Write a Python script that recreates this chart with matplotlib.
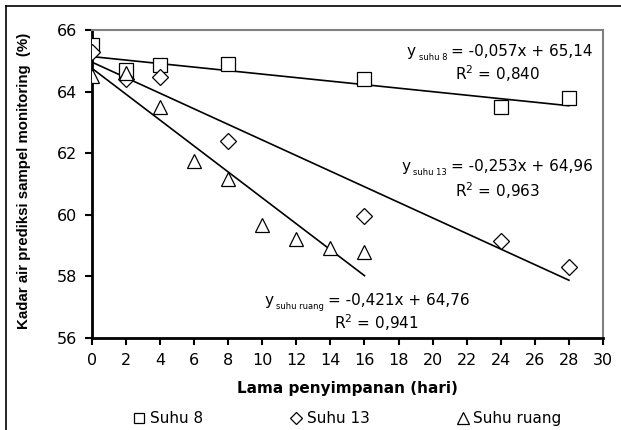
import matplotlib
matplotlib.use('Agg')
import matplotlib.pyplot as plt
from matplotlib.lines import Line2D
from matplotlib.transforms import offset_copy
import numpy as np

plt.rcParams['font.family'] = ['DejaVu Sans']
plt.rcParams['mathtext.default'] = 'regular'

# Data
days_8 = [0, 2, 4, 8, 16, 24, 28]
suhu_8 = [65.51, 64.70, 64.86, 64.90, 64.41, 63.50, 63.79]
days_13 = [0, 2, 4, 8, 16, 24, 28]
suhu_13 = [65.29, 64.41, 64.47, 62.40, 59.96, 59.15, 58.31]
days_ruang = [0, 2, 4, 6, 8, 10, 12, 14, 16]
suhu_ruang = [64.50, 64.62, 63.50, 61.75, 61.16, 59.67, 59.22, 58.92, 58.79]

# Trendline coefficients (slope, intercept) as printed
coef_8 = (-0.057, 65.14)
coef_13 = (-0.253, 64.96)
coef_ruang = (-0.421, 64.76)

fig = plt.figure(figsize=(6.21, 4.30), dpi=100)
ax = fig.add_axes([0.148, 0.214, 0.823, 0.716])

mk = dict(linestyle='none', markerfacecolor='white', markeredgecolor='black',
          markeredgewidth=0.9, zorder=3)
ax.plot(days_8, suhu_8, marker='s', markersize=9.5, label='Suhu 8', **mk)
ax.plot(days_13, suhu_13, marker='D', markersize=8, label='Suhu 13', **mk)
ax.plot(days_ruang, suhu_ruang, marker='^', markersize=10.5, label='Suhu ruang', **mk)

for days, coef in [(days_8, coef_8), (days_13, coef_13), (days_ruang, coef_ruang)]:
    xs = np.array([min(days), max(days)])
    ax.plot(xs, coef[0] * xs + coef[1], color='black', linewidth=1.2, zorder=2)

ax.set_xlim(0, 30)
ax.set_ylim(56, 66)
ax.set_xticks(np.arange(0, 31, 2))
ax.set_yticks(np.arange(56, 67, 2))
ax.tick_params(direction='out', length=5, width=1.5, labelsize=11.5, pad=6)
for s in ['left', 'bottom']:
    ax.spines[s].set_linewidth(2)
for s in ['top', 'right']:
    ax.spines[s].set_color('#808080')
    ax.spines[s].set_linewidth(1.5)

ax.set_xlabel('Lama penyimpanan (hari)', fontsize=11, fontweight='bold', labelpad=9)
ax.set_ylabel('Kadar air prediksi sampel monitoring  (%)', fontsize=10.8,
              fontweight='bold', family='Liberation Sans')
ax.yaxis.set_label_coords(-0.12, 0.51)

renderer = fig.canvas.get_renderer()


def equation(x, y, sub, rest, ha):
    # y_sub = rest, built from three pieces so the subscript can stay tiny
    parts = [('y', 11), (sub, 6), (rest, 11)]
    widths = []
    for txt, fs in parts:
        t = ax.text(0, 0, txt, fontsize=fs)
        widths.append(t.get_window_extent(renderer).width * 72 / fig.dpi)
        t.remove()
    gap_a, gap_b = 2, 3
    total = sum(widths) + gap_a + gap_b
    start = -total if ha == 'right' else 0
    offs = [start, start + widths[0] + gap_a, start + widths[0] + widths[1] + gap_a + gap_b]
    dys = [0, -3, 0]
    for (txt, fs), dx, dy in zip(parts, offs, dys):
        tr = offset_copy(ax.transAxes, fig=fig, x=dx, y=dy, units='points')
        ax.text(x, y, txt, fontsize=fs, transform=tr, ha='left', va='baseline')


equation(0.98, 0.917, 'suhu 8', '= -0,057x + 65,14', 'right')
equation(0.98, 0.542, 'suhu 13', '= -0,253x + 64,96', 'right')
equation(0.337, 0.107, 'suhu ruang', '= -0,421x + 64,76', 'left')

tk = dict(fontsize=11, transform=ax.transAxes, ha='center', va='center')
ax.text(0.794, 0.858, r'R$^2$ = 0,840', **tk)
ax.text(0.793, 0.48, r'R$^2$ = 0,963', **tk)
ax.text(0.557, 0.049, r'R$^2$ = 0,941', **tk)

fig.legend(loc='center', bbox_to_anchor=(0.559, 0.026), ncol=3, frameon=False,
           fontsize=11, handlelength=0.8, handletextpad=0.3, columnspacing=5.7,
           markerscale=0.8)

# outer chart frame
fig.add_artist(Line2D([0.0097, 0.0097], [0, 0.986], transform=fig.transFigure,
                      color='black', linewidth=1.2))
fig.add_artist(Line2D([0.0097, 1.0], [0.986, 0.986], transform=fig.transFigure,
                      color='black', linewidth=1.2))

fig.savefig('out.png', dpi=100)
